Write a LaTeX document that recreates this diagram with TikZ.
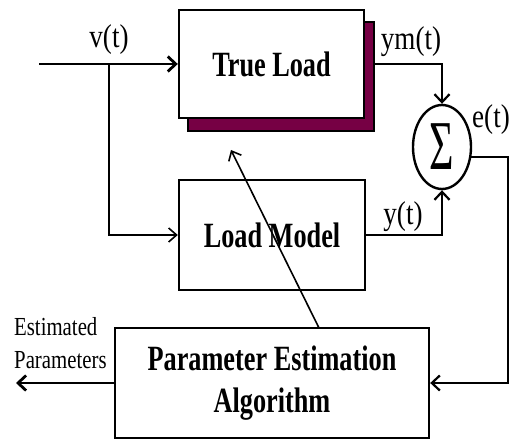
\documentclass[tikz,border=0pt]{standalone}
\usepackage{fontspec}
\setmainfont{Liberation Serif}
\usetikzlibrary{arrows.meta,shapes.geometric}
\definecolor{shadowred}{RGB}{118,0,68}
\newcommand{\narrowbig}[1]{\scalebox{0.74}[1]{#1}}
\newcommand{\narrowsig}[1]{\scalebox{0.82}[1]{#1}}
\newcommand{\narrowsmall}[1]{\scalebox{0.8}[1]{#1}}
\tikzset{
  block/.style={draw=black, line width=2.4pt, fill=white, rectangle, inner sep=0pt,
    font=\fontsize{35.5}{42}\selectfont\bfseries, align=center},
  shadowbox/.style={draw=black, line width=1.2pt, fill=shadowred, rectangle, inner sep=0pt},
  sig/.style={line width=2.2pt, -{Straight Barb[length=8pt,width=15pt]}},
  heavysig/.style={line width=2.8pt, -{Straight Barb[length=8pt,width=15pt]}},
  thinsig/.style={line width=1.6pt, -{Straight Barb[length=8pt,width=14pt]}},
  siglabel/.style={inner sep=0pt, font=\fontsize{33}{33}\selectfont},
  smalllabel/.style={inner sep=0pt, anchor=west, font=\fontsize{26}{26}\selectfont},
}
\begin{document}
\begin{tikzpicture}[x=1pt, y=-1pt]
  \useasboundingbox (0,0) rectangle (512,441);

  % True Load block with its drop shadow
  \node[shadowbox, minimum width=186pt, minimum height=109pt] (tlsh) at (281,76.5) {};
  \node[block, minimum width=185pt, minimum height=108pt] (tl) at (271.5,64) {\narrowbig{True Load}};

  % Load Model and estimator blocks
  \node[block, minimum width=186pt, minimum height=110pt] (lm) at (272,235) {\narrowbig{Load Model}};
  \node[block, minimum width=314pt, minimum height=110pt] (pe) at (272,383)
    {\narrowbig{Parameter Estimation}\\\narrowbig{Algorithm}};

  % Summing junction
  \node[draw=black, line width=2.4pt, ellipse, inner sep=0pt, minimum width=58pt, minimum height=84pt]
    (sum) at (442,147) {\fontsize{70}{70}\selectfont\scalebox{0.6}[1]{Σ}};

  % Free ends of the signal lines
  \coordinate (vin) at (39,64);
  \coordinate (br) at (109,64);
  \coordinate (eout) at (16,383);
  \coordinate (tap) at (319,328);
  \coordinate (aim) at (231,150);

  % Input v(t) to both loads
  \draw[heavysig] (vin) -- (tl.west);
  \draw[thinsig] (br) |- (lm.west);

  % Outputs into the summing junction
  \draw[sig] (tl.east -| tlsh.east) -| (sum.north);
  \draw[sig] (lm.east) -| (sum.south);

  % Error feedback to the estimator
  \draw[sig] (sum.-19) -- ++(37,0) |- (pe.east);

  % Estimated parameters out, and adaptation arrow
  \draw[heavysig] (pe.west) -- (eout);
  \draw[thinsig] (tap) -- (aim);

  % Signal labels
  \node[siglabel] (lv) at (109,40) {\narrowsig{v(t)}};
  \node[siglabel] (lym) at (411,42) {\narrowsig{ym(t)}};
  \node[siglabel] (ly) at (403,217) {\narrowsig{y(t)}};
  \node[siglabel] (le) at (491,120) {\narrowsig{e(t)}};
  \node[smalllabel] (lest) at (14,327) {\narrowsmall{Estimated}};
  \node[smalllabel] (lpar) at (14,360) {\narrowsmall{Parameters}};
\end{tikzpicture}
\end{document}
